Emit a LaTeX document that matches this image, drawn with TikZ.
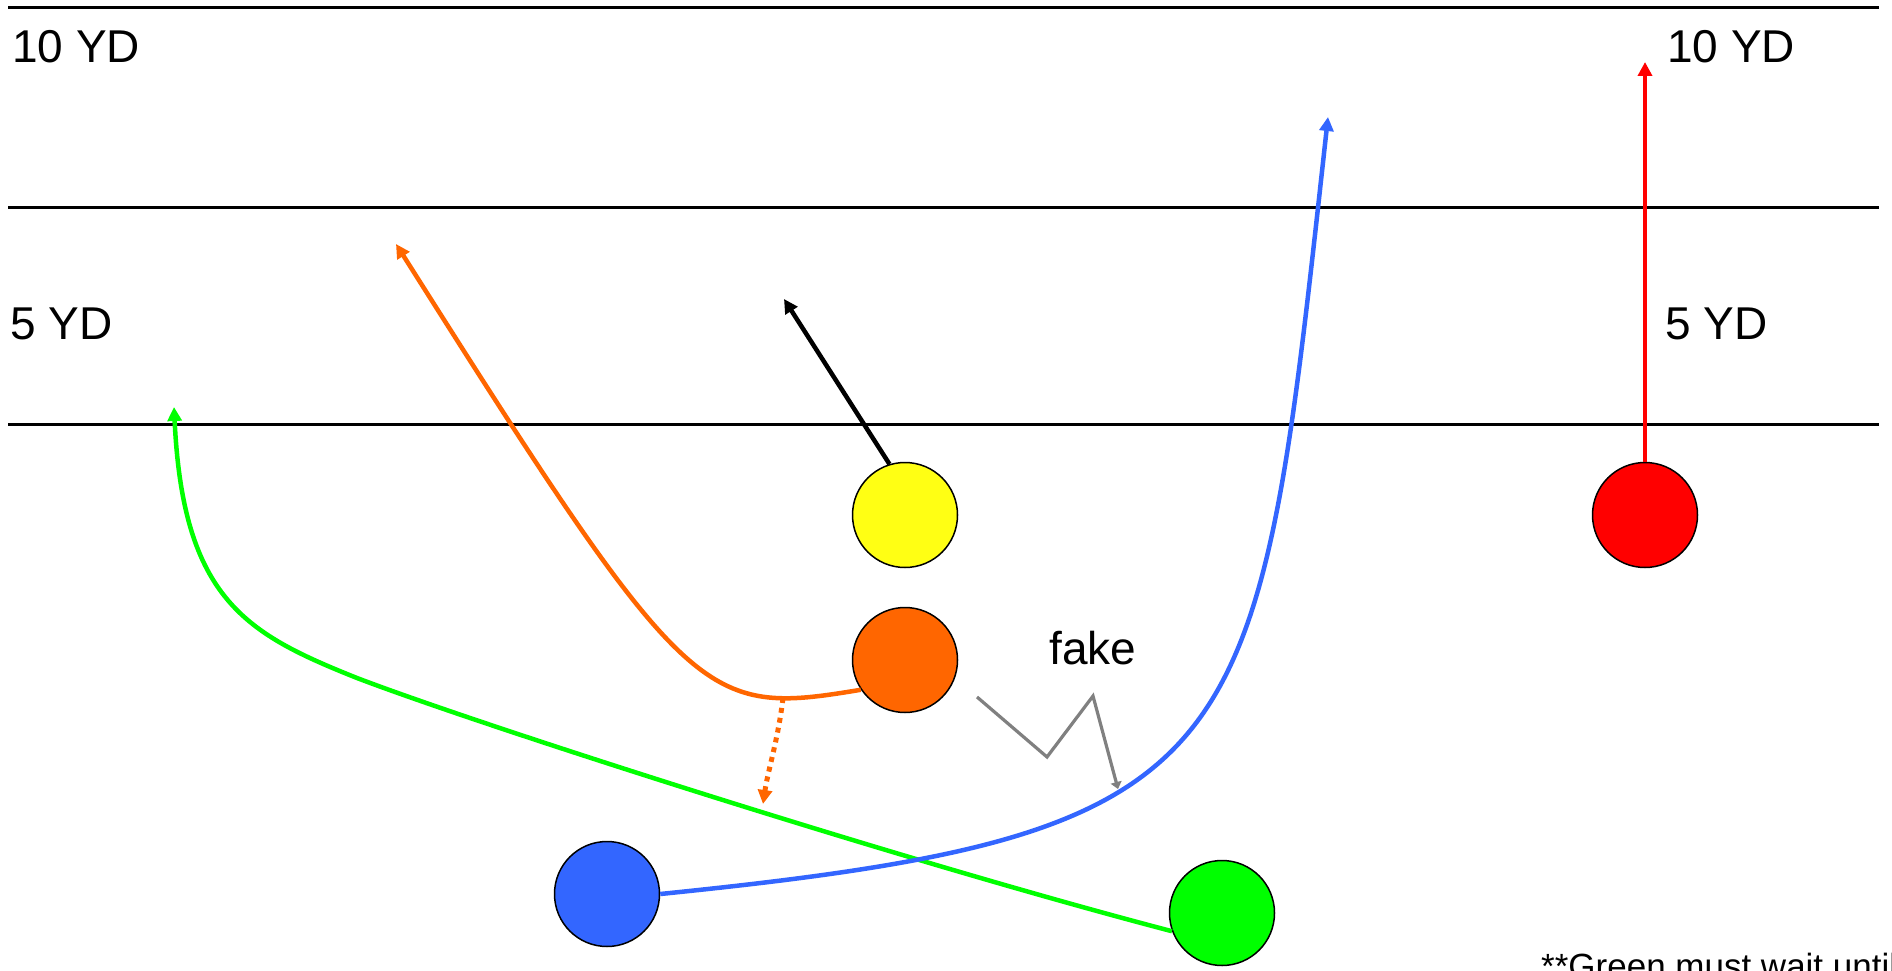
\documentclass[tikz,border=0pt]{standalone}
\usepackage{fontspec}
\setmainfont{Liberation Sans}
\usetikzlibrary{arrows.meta}
\definecolor{pyellow}{RGB}{255,255,20}
\definecolor{porange}{RGB}{255,102,0}
\definecolor{pred}{RGB}{255,0,0}
\definecolor{pblue}{RGB}{51,102,255}
\definecolor{pgreen}{RGB}{0,255,0}
\definecolor{pgray}{RGB}{128,128,128}
\begin{document}
\begin{tikzpicture}[x=1pt,y=-1pt,
  player/.style={circle,draw=black,line width=1.5pt,minimum size=105pt,inner sep=0pt},
  route/.style={line width=4.5pt,-{Triangle[length=14pt,width=14pt]}},
  yard/.style={line width=3pt,black},
  lbl/.style={font=\fontsize{46}{55}\selectfont,anchor=base west,inner sep=0pt},
  note/.style={font=\fontsize{35}{42}\selectfont,anchor=base west,inner sep=0pt}]
\useasboundingbox (0,0) rectangle (1892,971);
\fill[white] (0,0) rectangle (1892,971);
% yard lines
\draw[yard] (8,8) -- (1879,8);
\draw[yard] (8,207.5) -- (1879,207.5);
\draw[yard] (8,424.5) -- (1879,424.5);
% labels
\node[lbl] (t10l) at (12,63) {10 YD};
\node[lbl] (t10r) at (1667,63) {10 YD};
\node[lbl] (t5l) at (10,339) {5 YD};
\node[lbl] (t5r) at (1665,339) {5 YD};
\node[lbl] (tfake) at (1049,664) {fake};
\node[note] (tnote) at (1541,978) {**Green must wait until};
% players
\node[player,fill=pyellow] (Y) at (905,515) {};
\node[player,fill=porange] (O) at (905,660) {};
\node[player,fill=pred] (R) at (1645,515) {};
\node[player,fill=pblue] (B) at (607,894) {};
\node[player,fill=pgreen] (G) at (1222,913) {};
% route end points
\coordinate (Yend) at (784,299);
\coordinate (Rend) at (1645,62);
\coordinate (Bend) at (1328,117);
\coordinate (Oend) at (396,244);
\coordinate (Odot) at (783,698);
\coordinate (Odotend) at (763,804);
\coordinate (Gend) at (174,407);
\coordinate (Gmid) at (357,678);
\coordinate (Fs) at (977,697);
\coordinate (F1) at (1047,757);
\coordinate (F2) at (1093,696);
\coordinate (Fend) at (1118,789);
% routes
\draw[route,black] (Y.107) -- (Yend);
\draw[route,pred] (R.north) -- (Rend);
\draw[route,pgreen] (G.200) .. controls (900,860) and (480,725) .. (Gmid)
   .. controls (247,634) and (183,600) .. (Gend);
\draw[route,pblue] (B.east) .. controls (1260,833) and (1256,768) .. (Bend);
\draw[route,porange] (O.214) .. controls (703,716) and (690,709) .. (Oend);
\draw[porange,line width=5pt,dash pattern=on 5pt off 5pt,-{Triangle[length=14pt,width=14pt]}]
   (Odot) .. controls (778,740) and (768,770) .. (Odotend);
\draw[pgray,line width=3.2pt,-{Triangle[length=7pt,width=11pt]}]
   (Fs) -- (F1) -- (F2) -- (Fend);
\end{tikzpicture}
\end{document}
